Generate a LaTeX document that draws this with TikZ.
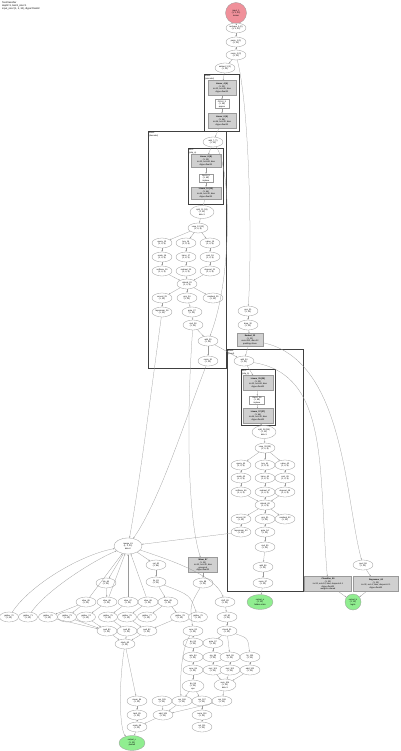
\documentclass[tikz,border=0pt]{standalone}
\usepackage{fontspec}
\setmainfont{Liberation Sans}
\usetikzlibrary{arrows.meta, shapes.geometric, calc}
\definecolor{graphline}{HTML}{9A9A9A}
\definecolor{modgrey}{HTML}{D0D0D0}
\definecolor{inred}{HTML}{F0909A}
\definecolor{outgreen}{HTML}{90EE90}
\tikzset{
  op/.style={ellipse, draw=graphline, line width=0.3pt, fill=white, inner sep=0.2pt,
    minimum width=20pt, minimum height=10pt, align=center, font=\fontsize{2.1}{2.5}\selectfont},
  bigop/.style={op, minimum width=26pt, minimum height=15pt},
  modbox/.style={rectangle, draw=graphline, line width=0.3pt, fill=modgrey, inner sep=0.6pt,
    align=center, font=\fontsize{2.1}{2.5}\selectfont},
  actbox/.style={modbox, fill=white},
  inp/.style={circle, draw=graphline, line width=0.3pt, fill=inred, inner sep=0pt,
    minimum size=21pt, align=center, font=\fontsize{2.1}{2.5}\selectfont},
  outp/.style={ellipse, draw=graphline, line width=0.3pt, fill=outgreen, inner sep=0pt,
    minimum width=26pt, minimum height=15pt, align=center, font=\fontsize{2.1}{2.5}\selectfont},
  cluster/.style={draw=black!75, line width=0.9pt},
  clabel/.style={anchor=north west, inner sep=0.5pt, align=left, font=\fontsize{2.1}{2.5}\selectfont},
  link/.style={draw=graphline, line width=0.25pt, -{Stealth[length=1.6pt,width=1.2pt]}},
}
\begin{document}
\begin{tikzpicture}[x=1pt, y=-1pt]
\useasboundingbox[fill=white] (0,0) rectangle (400,751);

% title
\node[anchor=north west, inner sep=0pt, align=left, font=\fontsize{2.4}{2.8}\selectfont] (title) at (2,2)
  {TextClassifier\\depth=3, batch\_size=1\\input\_size=(1, 3, 32), dtype=float32};

% input and embedding
\node[inp] (x_in) at (236,13) {input\_1\\(1, 3, 32)\\tensor};
\node[op] (reshape0) at (236,28) {reshape\_0 (0)\\(1, 3, 32)};
\node[op] (perm1) at (236,42) {perm\_1 (1)\\(3, 32)};
\node[op] (norm2) at (236,55) {norm\_2 (2)\\(3, 32)};
\node[op] (embed3) at (225,68) {embed\_3 (3)\\(1, 32)};

% block 1
\draw[cluster] (204,74) rectangle (239,131);
\node[clabel] (lab_enc) at (204.5,74.5) {Block\\(encoder)};
\node[modbox, minimum width=28pt, minimum height=15pt] (lin4) at (222,88)
  {\textbf{Linear\_4 (4)}\\(1, 32)\\in=32, out=96, bias\\dtype=float32};
\node[actbox, minimum width=14pt, minimum height=9pt] (gelu5) at (222,104) {GELU\_5\\(1, 96)\\approx};
\node[modbox, minimum width=28pt, minimum height=15pt] (lin6) at (222,121)
  {\textbf{Linear\_6 (6)}\\(1, 96)\\in=96, out=32, bias\\dtype=float32};

% block 2
\draw[cluster] (148,131) rectangle (226,368);
\node[clabel] (lab_dec) at (148.5,131.5) {Block\\(decoder)};
\node[op] (add7) at (213,142) {add\_7 (7)\\(1, 32)};
\draw[cluster, line width=0.7pt] (188,148) rectangle (223,204);
\node[clabel] (lab_mlp2) at (188.5,148.5) {MLP\\(mlp\_a)};
\node[modbox, minimum width=30pt, minimum height=13pt] (lin8) at (206,161)
  {\textbf{Linear\_8 (8)}\\(1, 32)\\in=32, out=64, bias\\dtype=float32};
\node[actbox, minimum width=14pt, minimum height=8pt] (relu9) at (206,178) {ReLU\_9\\(1, 64)\\inplace};
\node[modbox, minimum width=30pt, minimum height=12pt] (lin10) at (206,193)
  {\textbf{Linear\_10 (10)}\\(1, 64)\\in=64, out=32, bias\\dtype=float32};
\node[bigop, minimum width=24pt, minimum height=13pt] (split11) at (202,212) {split\_11 (11)\\(1, 32)\\dim=1};
\node[op] (view12) at (198,228) {view\_12 (12)\\(1, 4, 8)};
\node[op] (qa) at (162,243) {query\_13\\(1, 4, 8)};
\node[op] (ka) at (186,243) {key\_14\\(1, 4, 8)};
\node[op] (va) at (210,243) {value\_15\\(1, 4, 8)};
\node[op] (qb) at (162,257) {scale\_16\\(1, 4, 8)};
\node[op] (kb) at (186,257) {trans\_17\\(1, 8, 4)};
\node[op] (vb) at (210,257) {cont\_18\\(1, 4, 8)};
\node[op] (qc) at (162,271) {softmax\_19\\(1, 4, 4)};
\node[op] (kc) at (186,271) {matmul\_20\\(1, 4, 4)};
\node[op] (vc) at (210,271) {dropout\_21\\(1, 4, 8)};
\node[op] (attn22) at (187,284) {attend\_22\\(1, 4, 8)};
\node[op] (outa) at (162,298) {concat\_23\\(1, 32)};
\node[op] (outb) at (187,298) {proj\_24\\(1, 32)};
\node[op] (outc) at (213,298) {residual\_25\\(1, 32)};
\node[op] (outd) at (162,312) {layernorm\_26\\(1, 32)};
\node[op] (oute) at (192,312) {gate\_27\\(1, 32)};
\node[op] (mul28) at (193,325) {mul\_28\\(1, 32)};
\node[op] (add29) at (208,341) {add\_29\\(1, 32)};
\node[op] (norm30) at (208,361) {norm\_30\\(1, 32)};

% side path
\node[op] (pos31) at (248,311) {pos\_31\\(1, 32)};
\node[op] (drop32) at (248,325) {drop\_32\\(1, 32)};
\node[modbox, minimum width=26pt, minimum height=13pt] (emb33) at (250,340)
  {\textbf{Embed\_33}\\(1, 32)\\num=512, dim=32\\padding=None};

% block 3
\draw[cluster] (227,349) rectangle (303,591);
\node[clabel] (lab_head) at (227.5,349.5) {Block\\(head)};
\node[op] (add34) at (244,361) {add\_34\\(1, 32)};
\draw[cluster, line width=0.7pt] (241,369) rectangle (275,425);
\node[clabel] (lab_mlp3) at (241.5,369.5) {MLP\\(mlp\_b)};
\node[modbox, minimum width=30pt, minimum height=15pt] (lin35) at (258,383)
  {\textbf{Linear\_35 (35)}\\(1, 32)\\in=32, out=64, bias\\dtype=float32};
\node[actbox, minimum width=15pt, minimum height=8pt] (relu36) at (257,400) {ReLU\_36\\(1, 64)\\inplace};
\node[modbox, minimum width=30pt, minimum height=15pt] (lin37) at (258,416)
  {\textbf{Linear\_37 (37)}\\(1, 64)\\in=64, out=32, bias\\dtype=float32};
\node[bigop, minimum width=24pt, minimum height=13pt] (split38) at (264,432) {split\_38 (38)\\(1, 32)\\dim=1};
\node[op] (view39) at (265,448) {view\_39 (39)\\(1, 4, 8)};
\node[op] (hqa) at (241,465) {query\_40\\(1, 4, 8)};
\node[op] (hka) at (265,465) {key\_41\\(1, 4, 8)};
\node[op] (hva) at (285,465) {value\_42\\(1, 4, 8)};
\node[op] (hqb) at (241,478) {scale\_43\\(1, 4, 8)};
\node[op] (hkb) at (265,478) {trans\_44\\(1, 8, 4)};
\node[op] (hvb) at (285,478) {cont\_45\\(1, 4, 8)};
\node[op] (hqc) at (241,492) {softmax\_46\\(1, 4, 4)};
\node[op] (hkc) at (265,492) {matmul\_47\\(1, 4, 4)};
\node[op] (hvc) at (285,492) {dropout\_48\\(1, 4, 8)};
\node[op] (attn49) at (265,505) {attend\_49\\(1, 4, 8)};
\node[op] (houta) at (241,519) {concat\_50\\(1, 32)};
\node[op] (houtb) at (265,519) {proj\_51\\(1, 32)};
\node[op] (houtc) at (285,519) {residual\_52\\(1, 32)};
\node[op] (houtd) at (241,532) {layernorm\_53\\(1, 32)};
\node[op] (houte) at (265,532) {gate\_54\\(1, 32)};
\node[op] (mul55) at (265,547) {mul\_55\\(1, 32)};
\node[op] (add56) at (263,567) {add\_56\\(1, 32)};
\node[op] (norm57) at (263,583) {norm\_57\\(1, 32)};
\node[outp] (out_a) at (260,602) {output\_a\\(1, 32)\\hidden state};

% right heads
\node[op] (pool58) at (363,565) {pool\_58\\(1, 32)};
\node[modbox, minimum width=47pt, minimum height=15pt] (cls59) at (328,584)
  {\textbf{Classifier\_59}\\(1, 32)\\in=32, out=10, bias, dropout=0.1\\dtype=float32\\weights=shared};
\node[modbox, minimum width=45pt, minimum height=15pt] (reg60) at (376,584)
  {\textbf{Regressor\_60}\\(1, 32)\\in=32, out=1, bias, dropout=0.1\\dtype=float32};
\node[outp, circle, minimum width=16pt, minimum height=16pt] (out_b) at (353,602) {output\_b\\(1, 10)\\logits};

% decoder tail
\node[bigop, minimum width=28pt, minimum height=16pt] (merge61) at (128,546) {merge\_61\\(1, 3, 32)\\dim=0};
\node[op] (cat62) at (156,565) {cat\_62\\(1, 64)};
\node[op] (lin63) at (156,582) {lin\_63\\(1, 32)};
\node[op] (tok64) at (106,583) {tok\_64\\(1, 32)};
\node[op] (s65) at (86,602) {slice\_65\\(1, 32)};
\node[op] (s66) at (107,602) {slice\_66\\(1, 32)};
\node[op] (s67) at (128,602) {slice\_67\\(1, 32)};
\node[op] (s68) at (148,602) {slice\_68\\(1, 32)};
\node[op] (s69) at (168,602) {slice\_69\\(1, 32)};
\node[op, minimum width=19pt] (e70) at (9,617) {gather\_70\\(1, 32)};
\node[op, minimum width=19pt] (e71) at (28,617) {gather\_71\\(1, 32)};
\node[op, minimum width=19pt] (e72) at (48,617) {gather\_72\\(1, 32)};
\node[op, minimum width=19pt] (e73) at (67,617) {gather\_73\\(1, 32)};
\node[op, minimum width=19pt] (e74) at (86,617) {gather\_74\\(1, 32)};
\node[op, minimum width=19pt] (e75) at (108,617) {gather\_75\\(1, 32)};
\node[op, minimum width=19pt] (e76) at (127,617) {gather\_76\\(1, 32)};
\node[op, minimum width=19pt] (e77) at (147,617) {gather\_77\\(1, 32)};
\node[op, minimum width=19pt] (e78) at (180,617) {gather\_78\\(1, 32)};
\node[op, minimum width=19pt] (e79) at (198,617) {gather\_79\\(1, 32)};
\node[op] (p80) at (107,631) {pad\_80\\(1, 32)};
\node[op] (p81) at (127,631) {pad\_81\\(1, 32)};
\node[op] (p82) at (147,631) {pad\_82\\(1, 32)};
\node[op] (stack83) at (125,644) {stack\_83\\(3, 32)};
\node[op] (t84) at (137,701) {mean\_84\\(1, 32)};
\node[op] (t85) at (137,715) {tanh\_85\\(1, 32)};
\node[op] (t86) at (137,727) {scale\_86\\(1, 32)};
\node[outp] (out_c) at (132,743) {output\_c\\(1, 32)\\pooled};

% middle
\node[modbox, minimum width=29pt, minimum height=15pt] (mix87) at (203,565)
  {\textbf{Mixer\_87}\\(1, 32)\\in=32, out=32, bias\\groups=4\\dtype=float32};
\node[op] (m88) at (203,583) {mix\_88\\(1, 32)};
\node[op] (m89) at (225,602) {shift\_89\\(1, 32)};
\node[op] (m90) at (227,617) {roll\_90\\(1, 32)};
\node[op] (m91) at (227,631) {chunk\_91\\(1, 32)};
\node[op] (c92) at (193,631) {conv\_92\\(1, 32)};
\node[op] (c93) at (193,643) {bn\_93\\(1, 32)};
\node[op] (c94) at (193,657) {relu\_94\\(1, 32)};
\node[op] (c95) at (193,670) {conv\_95\\(1, 32)};
\node[bigop, minimum width=22pt, minimum height=12pt] (c96) at (193,686) {bn\_96\\(1, 32)\\eps};
\node[op] (g97) at (213,643) {gate\_97\\(1, 32)};
\node[op] (g98) at (213,657) {sig\_98\\(1, 32)};
\node[op] (g99) at (230,657) {tanh\_99\\(1, 32)};
\node[op] (g100) at (250,657) {lin\_100\\(1, 32)};
\node[op] (g101) at (213,670) {mul\_101\\(1, 32)};
\node[op] (g102) at (230,670) {mul\_102\\(1, 32)};
\node[op] (g103) at (250,670) {add\_103\\(1, 32)};
\node[bigop, minimum width=22pt, minimum height=12pt] (g104) at (225,685) {sum\_104\\(1, 32)\\dim=1};
\node[op] (r105) at (162,701) {res\_105\\(1, 32)};
\node[op] (r106) at (182,701) {res\_106\\(1, 32)};
\node[op] (r107) at (202,701) {res\_107\\(1, 32)};
\node[op] (r108) at (222,701) {res\_108\\(1, 32)};
\node[op] (r109) at (163,715) {add\_109\\(1, 32)};
\node[op] (r110) at (202,715) {norm\_110\\(1, 32)};
\node[op] (r111) at (202,727) {out\_111\\(1, 32)};

% chains
\draw[link] (x_in) -- (reshape0);
\draw[link] (reshape0) -- (perm1);
\draw[link] (perm1) -- (norm2);
\draw[link] (norm2) -- (embed3);
\draw[link] (embed3) -- (lin4);
\draw[link] (lin4) -- (gelu5);
\draw[link] (gelu5) -- (lin6);
\draw[link] (lin6) -- (add7);
\draw[link] (add7) -- (lin8);
\draw[link] (lin8) -- (relu9);
\draw[link] (relu9) -- (lin10);
\draw[link] (lin10) -- (split11);
\draw[link] (split11) -- (view12);
\draw[link] (view12) -- (qa);
\draw[link] (view12) -- (ka);
\draw[link] (view12) -- (va);
\draw[link] (qa) -- (qb);
\draw[link] (ka) -- (kb);
\draw[link] (va) -- (vb);
\draw[link] (qb) -- (qc);
\draw[link] (kb) -- (kc);
\draw[link] (vb) -- (vc);
\draw[link] (qc) -- (attn22);
\draw[link] (kc) -- (attn22);
\draw[link] (vc) -- (attn22);
\draw[link] (attn22) -- (outa);
\draw[link] (attn22) -- (outb);
\draw[link] (attn22) -- (outc);
\draw[link] (outa) -- (outd);
\draw[link] (outb) -- (oute);
\draw[link] (oute) -- (mul28);
\draw[link] (mul28) -- (add29);
\draw[link] (add29) -- (norm30);
\draw[link] (norm2) .. controls (250,110) and (252,250) .. (pos31);
\draw[link] (add7) .. controls (232,170) and (232,280) .. (add29);
\draw[link] (pos31) -- (drop32);
\draw[link] (drop32) -- (emb33);
\draw[link] (emb33) -- (add34);
\draw[link] (add29) -- (add34);
\draw[link] (add34) -- (lin35);
\draw[link] (lin35) -- (relu36);
\draw[link] (relu36) -- (lin37);
\draw[link] (lin37) -- (split38);
\draw[link] (split38) -- (view39);
\draw[link] (view39) -- (hqa);
\draw[link] (view39) -- (hka);
\draw[link] (view39) -- (hva);
\draw[link] (hqa) -- (hqb);
\draw[link] (hka) -- (hkb);
\draw[link] (hva) -- (hvb);
\draw[link] (hqb) -- (hqc);
\draw[link] (hkb) -- (hkc);
\draw[link] (hvb) -- (hvc);
\draw[link] (hqc) -- (attn49);
\draw[link] (hkc) -- (attn49);
\draw[link] (hvc) -- (attn49);
\draw[link] (attn49) -- (houta);
\draw[link] (attn49) -- (houtb);
\draw[link] (attn49) -- (houtc);
\draw[link] (houta) -- (houtd);
\draw[link] (houtb) -- (houte);
\draw[link] (houte) -- (mul55);
\draw[link] (mul55) -- (add56);
\draw[link] (add56) -- (norm57);
\draw[link] (norm57) -- (out_a);
\draw[link] (add34) .. controls (330,375) and (318,470) .. (cls59);
\draw[link] (emb33) .. controls (345,360) and (345,500) .. (pool58);
\draw[link] (pool58) -- (reg60);
\draw[link] (cls59) -- (out_b);
\draw[link] (reg60) -- (out_b);

% decoder tail links
\draw[link] (outd) .. controls (150,400) and (140,480) .. (merge61);
\draw[link] (norm30) .. controls (185,420) and (160,500) .. (merge61);
\draw[link] (houtd) -- (merge61);
\draw[link] (merge61) -- (cat62);
\draw[link] (cat62) -- (lin63);
\draw[link] (lin63) -- (s69);
\draw[link] (merge61) -- (tok64);
\draw[link] (tok64) -- (s66);
\draw[link] (s65) -- (merge61);
\draw[link] (s66) -- (merge61);
\draw[link] (s67) -- (merge61);
\draw[link] (s68) -- (merge61);
\draw[link] (e70) .. controls (30,585) and (80,555) .. (merge61);
\draw[link] (e71) .. controls (45,592) and (90,562) .. (merge61);
\draw[link] (s65) -- (e72);
\draw[link] (s65) -- (e73);
\draw[link] (s66) -- (e74);
\draw[link] (s67) -- (e75);
\draw[link] (s68) -- (e76);
\draw[link] (s69) -- (e77);
\draw[link] (s69) -- (e78);
\draw[link] (lin63) .. controls (190,595) .. (e79);
\draw[link] (e72) -- (p80);
\draw[link] (e73) -- (p80);
\draw[link] (e74) -- (p80);
\draw[link] (e75) -- (p81);
\draw[link] (e76) -- (p82);
\draw[link] (e78) -- (p82);
\draw[link] (p80) -- (stack83);
\draw[link] (p81) -- (stack83);
\draw[link] (p82) -- (stack83);
\draw[link] (stack83) -- (t84);
\draw[link] (t84) -- (t85);
\draw[link] (t85) -- (t86);
\draw[link] (t86) -- (out_c);
\draw[link] (stack83) .. controls (118,690) and (120,730) .. (out_c);

% middle links
\draw[link] (mul28) .. controls (186,420) and (188,520) .. (mix87);
\draw[link] (mix87) -- (m88);
\draw[link] (merge61) .. controls (170,560) and (215,575) .. (m89);
\draw[link] (m89) -- (m90);
\draw[link] (m90) -- (m91);
\draw[link] (m91) -- (g97);
\draw[link] (m91) -- (g99);
\draw[link] (m91) .. controls (248,638) .. (g100);
\draw[link] (g97) -- (g98);
\draw[link] (g98) -- (g101);
\draw[link] (g99) -- (g102);
\draw[link] (g100) -- (g103);
\draw[link] (g101) -- (g104);
\draw[link] (g102) -- (g104);
\draw[link] (g103) -- (g104);
\draw[link] (g104) -- (r108);
\draw[link] (m88) .. controls (190,605) .. (c92);
\draw[link] (c92) -- (c93);
\draw[link] (c93) -- (c94);
\draw[link] (c94) -- (c95);
\draw[link] (c95) -- (c96);
\draw[link] (c96) -- (r106);
\draw[link] (c96) -- (r107);
\draw[link] (c92) .. controls (180,650) and (180,690) .. (r106);
\draw[link] (r106) -- (r109);
\draw[link] (r105) -- (r109);
\draw[link] (r108) -- (r109);
\draw[link] (r107) -- (r110);
\draw[link] (r110) -- (r111);
\draw[link] (r109) -- (t86);
\end{tikzpicture}
\end{document}
